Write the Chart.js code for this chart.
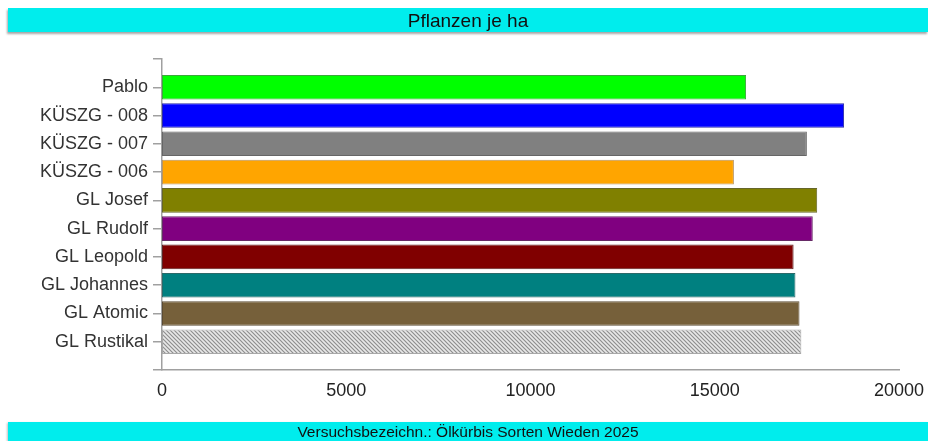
<!DOCTYPE html>
<html>
<head>
<meta charset="utf-8">
<script src="https://cdn.jsdelivr.net/npm/chart.js@4"></script>
<style>
  html, body { margin: 0; padding: 0; background: #fff; }
  #wrap { position: relative; width: 928px; height: 441px; overflow: hidden; font-family: "Liberation Sans", Arial, sans-serif; }
  #chart { position: absolute; left: 0; top: 0; }
  .band { position: absolute; left: 8px; width: 920px; background: #00eded; color: #111; text-align: center; }
  #title { top: 8px; height: 24px; line-height: 25px; font-size: 19px; box-shadow: -1px 2px 2px rgba(0,0,0,0.35); }
  #footer { top: 422px; height: 19px; line-height: 20px; font-size: 15.5px; box-shadow: -1px 1px 2px rgba(0,0,0,0.25); }
</style>
</head>
<body>
<div id="wrap">
  <canvas id="chart" width="928" height="441"></canvas>
  <div id="title" class="band">Pflanzen je ha</div>
  <div id="footer" class="band">Versuchsbezeichn.: Ölkürbis Sorten Wieden 2025</div>
</div>
<script>
const categories = ["Pablo", "KÜSZG - 008", "KÜSZG - 007", "KÜSZG - 006", "GL Josef", "GL Rudolf", "GL Leopold", "GL Johannes", "GL Atomic", "GL Rustikal"];
const values = [15850, 18510, 17500, 15520, 17780, 17660, 17140, 17190, 17300, 17350];
const xTicks = [0, 5000, 10000, 15000, 20000];
const barColors = ["#00ff00", "#0000ff", "#808080", "#ffa500", "#808000", "#800080", "#800000", "#008080", "#76603a", null];
const borderColors = ["#3aa83a", "#2a2aa8", "#666666", "#b89460", "#66662a", "#662a66", "#5e2222", "#2a6a6a", "#5c4c34", "#a8a8a8"];

function hatch() {
  const c = document.createElement('canvas');
  c.width = 4; c.height = 4;
  const g = c.getContext('2d');
  g.fillStyle = '#e8e8e8';
  g.fillRect(0, 0, 4, 4);
  g.strokeStyle = '#8e8e8e';
  g.lineWidth = 1.2;
  g.beginPath();
  g.moveTo(-1, -1); g.lineTo(5, 5);
  g.moveTo(-1, 3); g.lineTo(1, 5);
  g.moveTo(3, -1); g.lineTo(5, 1);
  g.stroke();
  return g.createPattern(c, 'repeat');
}
const pattern = hatch();
const bg = barColors.map(c => c === null ? pattern : c);

const FONT = "'Liberation Sans', Arial, sans-serif";

new Chart(document.getElementById('chart'), {
  type: 'bar',
  data: {
    datasets: [{
      data: values.map((v, i) => ({ x: v, y: i })),
      backgroundColor: bg,
      borderColor: borderColors,
      borderWidth: 1,
      borderSkipped: false,
      barPercentage: 0.87,
      categoryPercentage: 1
    }]
  },
  options: {
    indexAxis: 'y',
    responsive: false,
    animation: false,
    layout: { padding: { top: 59, right: 29, bottom: 0, left: 0 } },
    plugins: { legend: { display: false }, tooltip: { enabled: false } },
    scales: {
      x: {
        type: 'linear',
        min: 0, max: 20000,
        afterBuildTicks: s => { s.ticks = xTicks.map(v => ({ value: v })); },
        afterFit: s => { s.height = 71; s.paddingRight = 0; s.paddingLeft = 0; },
        grid: { display: false, drawTicks: false },
        border: { display: true, color: '#a0a0a0', width: 1.5 },
        ticks: { color: '#222', font: { family: FONT, size: 18 }, padding: 10, maxRotation: 0, callback: v => String(v) }
      },
      y: {
        type: 'linear',
        offset: false,
        min: -1, max: 10,
        reverse: true,
        afterBuildTicks: s => { const t = []; for (let i = -1; i <= categories.length; i++) t.push({ value: i }); s.ticks = t; },
        afterFit: s => { s.width = 162; s.paddingTop = 0; s.paddingBottom = 0; },
        grid: { drawOnChartArea: false, drawTicks: true, tickLength: 9, color: '#a0a0a0', lineWidth: 1.5, offset: false },
        border: { display: true, color: '#a0a0a0', width: 1.5 },
        ticks: {
          color: '#333',
          font: { family: FONT, size: 18 },
          padding: 5,
          autoSkip: false,
          callback: v => (categories[v] !== undefined ? categories[v] : '')
        }
      }
    }
  }
});
</script>
</body>
</html>
